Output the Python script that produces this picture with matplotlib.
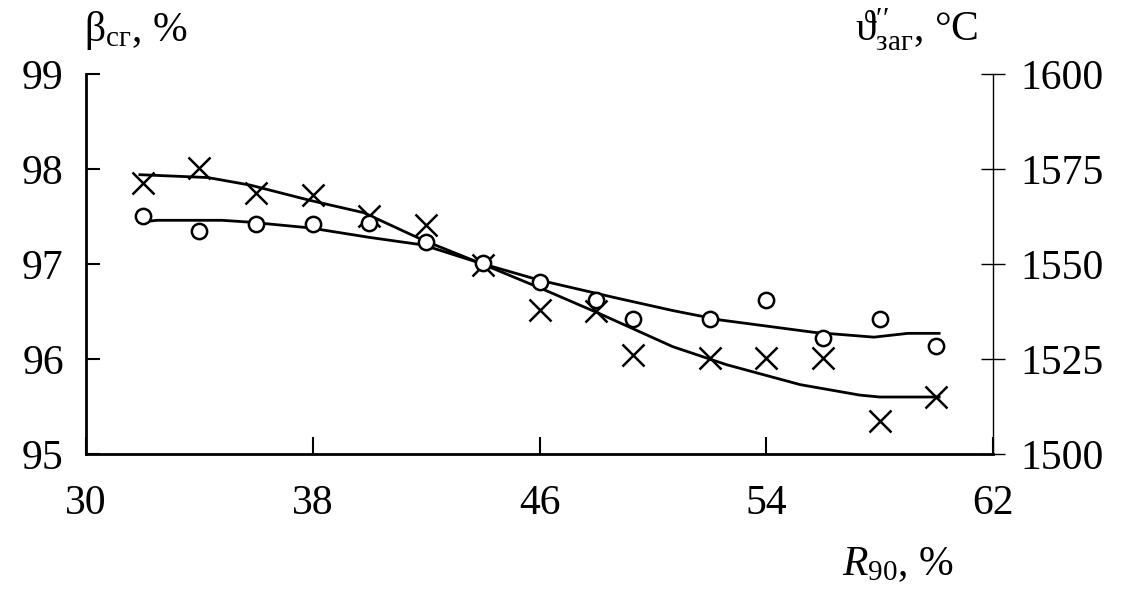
import matplotlib
matplotlib.use('Agg')
import matplotlib.pyplot as plt

plt.rcParams['font.family'] = ['Liberation Serif', 'DejaVu Serif']
plt.rcParams['mathtext.fontset'] = 'custom'
plt.rcParams['mathtext.rm'] = 'Liberation Serif'
plt.rcParams['mathtext.it'] = 'Liberation Serif:italic'

# measured points (left-axis units, beta_sg %)
x_pts = [32, 34, 36, 38, 40, 42, 44, 46, 48, 49.3, 52, 54, 56, 58, 60]
beta_cross = [97.85, 98.01, 97.75, 97.73, 97.51, 97.41, 96.99, 96.52, 96.51, 96.04,
              96.01, 96.01, 96.01, 95.35, 95.60]
beta_circle = [97.51, 97.35, 97.42, 97.42, 97.43, 97.23, 97.01, 96.81, 96.62, 96.42,
               96.42, 96.62, 96.22, 96.42, 96.14]

# trend curves
x_tr_cross = [31.9, 34.3, 35.8, 37.9, 39.8, 41.9, 43.9, 46.0, 48.1, 50.7, 52.6, 55.2, 57.3, 58.0, 60.1]
y_tr_cross = [97.94, 97.91, 97.83, 97.67, 97.54, 97.25, 97.01, 96.75, 96.48, 96.13, 95.94, 95.73,
              95.62, 95.60, 95.60]
x_tr_circle = [31.9, 32.5, 34.8, 35.8, 37.9, 40.0, 41.9, 43.9, 46.0, 48.6, 50.7, 52.4, 55.7, 57.8,
               59.0, 60.1]
y_tr_circle = [97.44, 97.46, 97.46, 97.44, 97.38, 97.28, 97.20, 97.01, 96.83, 96.65, 96.51, 96.41,
               96.28, 96.23, 96.27, 96.27]

x_ticks = [30, 38, 46, 54, 62]
left_ticks = [95, 96, 97, 98, 99]
right_ticks = [1500, 1525, 1550, 1575, 1600]

fig = plt.figure(figsize=(11.22, 5.91), dpi=100)
ax = fig.add_axes([86 / 1122, 1 - 454 / 591, (993 - 86) / 1122, (454 - 74) / 591])

ax.plot(x_tr_cross, y_tr_cross, color='black', lw=2)
ax.plot(x_tr_circle, y_tr_circle, color='black', lw=2)
ax.plot(x_pts, beta_cross, ls='none', marker='x', ms=16, mew=1.8, color='black')
ax.plot(x_pts, beta_circle, ls='none', marker='o', ms=11, mew=1.8, mfc='white', mec='black')

ax.set_xlim(30, 62)
ax.set_ylim(95, 99)
ax.set_xticks(x_ticks)
ax.set_yticks(left_ticks)
for s in ['top', 'right']:
    ax.spines[s].set_visible(False)
for s in ['left', 'bottom']:
    ax.spines[s].set_linewidth(2)
ax.tick_params(axis='x', direction='in', length=12, width=1.5, pad=22, labelsize=30)
ax.tick_params(axis='y', direction='in', length=10, width=1.5, pad=16, labelsize=30)

ax2 = ax.twinx()
ax2.set_ylim(1500, 1600)
ax2.set_yticks(right_ticks)
for s in ['top', 'left', 'bottom']:
    ax2.spines[s].set_visible(False)
ax2.spines['right'].set_linewidth(1)
ax2.tick_params(axis='y', direction='inout', length=17, width=1, pad=11, labelsize=30)

fig.text(84 / 1122, 1 - 30 / 591, r'$\mathregular{\beta}_{\mathregular{сг}}$, %',
         fontsize=30, va='center', ha='left')
fig.text(855 / 1122, 1 - 30 / 591, r'$\mathregular{ϑ}^{\prime\prime}_{\mathregular{заг}}$, °C',
         fontsize=30, va='center', ha='left')
fig.text(842 / 1122, 1 - 565 / 591, r'$\mathit{R}_{\mathregular{90}}$, %',
         fontsize=30, va='center', ha='left')

fig.savefig('out.png', dpi=100)
